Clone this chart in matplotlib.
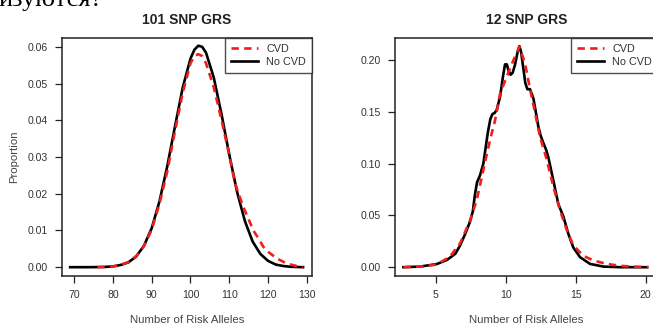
import matplotlib
matplotlib.use("Agg")
import matplotlib.pyplot as plt

plt.rcParams['font.family'] = ['Liberation Sans', 'DejaVu Sans']

# ---- Data: 101 SNP GRS ----
grs101_cvd_x = [76, 78, 80, 82, 84, 86, 88, 90, 92, 94, 96, 98, 100, 101, 102, 103, 104, 106,
                108, 110, 111.5, 113.6, 114.9, 116.2, 117.5, 118.8, 120, 122.2, 124.8, 127.4, 129]
grs101_cvd_y = [0.0, 0.00005, 0.0002, 0.0006, 0.0014, 0.003, 0.0057, 0.0102, 0.0172, 0.026,
                0.037, 0.0475, 0.0555, 0.0575, 0.058, 0.0575, 0.0555, 0.049, 0.040, 0.0305,
                0.0227, 0.0164, 0.0132, 0.0100, 0.0078, 0.0055, 0.0042, 0.0024, 0.0010, 0.0003, 0.0]
grs101_nocvd_x = [69, 72, 75, 78, 80, 82, 84, 86, 88, 90, 92, 94, 96, 98, 100, 101, 102, 103, 104,
                  106, 108, 110, 112, 114, 116, 118, 120, 122, 124, 126, 129]
grs101_nocvd_y = [0.0, 0.0, 0.00001, 0.00008, 0.0002, 0.0006, 0.0013, 0.0029, 0.0058, 0.0106,
                  0.0179, 0.0274, 0.0383, 0.0489, 0.0568, 0.0592, 0.0603, 0.0600, 0.0584, 0.0516,
                  0.0416, 0.0306, 0.0205, 0.0126, 0.0070, 0.0036, 0.0017, 0.0007, 0.0003, 0.0001, 0.0]

# ---- Data: 12 SNP GRS ----
grs12_cvd_x = [2.69, 4.0, 5.07, 6.0, 6.74, 7.45, 7.93, 8.4, 8.88, 9.24, 9.6, 10.07, 10.55, 10.98,
               11.38, 11.74, 12.1, 12.45, 12.93, 13.4, 13.88, 14.36, 14.83, 15.55, 16.26, 17.21,
               18.2, 19.1, 20.2]
grs12_cvd_y = [0.0, 0.0008, 0.0026, 0.010, 0.023, 0.045, 0.065, 0.094, 0.123, 0.142, 0.168, 0.184,
               0.200, 0.213, 0.197, 0.172, 0.149, 0.126, 0.104, 0.078, 0.055, 0.036, 0.021, 0.011,
               0.0065, 0.0032, 0.0013, 0.0006, 0.0]
grs12_nocvd_x = [2.69, 3.88, 5.07, 5.8, 6.4, 6.74, 7.1, 7.45, 7.65, 7.8, 7.95, 8.17, 8.4, 8.55,
                 8.72, 8.9, 9.05, 9.2, 9.36, 9.6, 9.8, 9.95, 10.08, 10.2, 10.35, 10.5, 10.67,
                 10.85, 10.98, 11.1, 11.26, 11.4, 11.55, 11.74, 11.98, 12.15, 12.33, 12.5, 12.69,
                 12.9, 13.05, 13.4, 13.76, 14.12, 14.48, 14.83, 15.31, 16.02, 16.98, 18.2, 20.1]
grs12_nocvd_y = [0.0, 0.0006, 0.003, 0.007, 0.013, 0.021, 0.032, 0.044, 0.054, 0.070, 0.082, 0.089,
                 0.100, 0.114, 0.130, 0.143, 0.148, 0.149, 0.152, 0.165, 0.184, 0.196, 0.196, 0.190,
                 0.186, 0.188, 0.196, 0.208, 0.2136, 0.208, 0.192, 0.178, 0.172, 0.172, 0.163,
                 0.150, 0.136, 0.127, 0.120, 0.113, 0.106, 0.084, 0.061, 0.049, 0.032, 0.019,
                 0.0097, 0.0032, 0.0006, 0.0, 0.0]

titles = ["101 SNP GRS", "12 SNP GRS"]
xlabel = "Number of Risk Alleles"
ylabel = "Proportion"
legend_labels = ["CVD", "No CVD"]
left_xticks = [70, 80, 90, 100, 110, 120, 130]
left_yticks = [0.00, 0.01, 0.02, 0.03, 0.04, 0.05, 0.06]
right_xticks = [5, 10, 15, 20]
right_yticks = [0.00, 0.05, 0.10, 0.15, 0.20]

W, H = 653, 329
fig = plt.figure(figsize=(W / 100, H / 100), dpi=100)

def px_axes(x0, y0, x1, y1):
    return fig.add_axes([x0 / W, 1 - y1 / H, (x1 - x0) / W, (y1 - y0) / H])

ax1 = px_axes(62, 38, 312, 276)
ax2 = px_axes(395, 38, 658, 276)

tick_col = '#333333'
lab_col = '#444444'
red = '#f01e1e'

def style(ax, title, xt, yt, fmt):
    for s in ax.spines.values():
        s.set_color('#222222')
        s.set_linewidth(1.1)
    ax.set_xticks(xt)
    ax.set_yticks(yt)
    ax.set_yticklabels([fmt.format(v) for v in yt])
    ax.tick_params(direction='out', length=5, width=0.9, colors='#222222',
                   labelsize=7.6, labelcolor=tick_col, pad=5)
    ax.set_title(title, fontsize=10, fontweight='bold', color='#222222', pad=10)
    ax.set_xlabel(xlabel, fontsize=8.2, color=lab_col, labelpad=11)

def draw(ax, cx, cy, nx, ny):
    l1, = ax.plot(cx, cy, color=red, lw=1.9, linestyle=(0, (2.8, 2.0)), label=legend_labels[0], zorder=3)
    l2, = ax.plot(nx, ny, color='black', lw=1.9, label=legend_labels[1], zorder=2)
    leg = ax.legend(handles=[l1, l2], loc='upper right', borderaxespad=0, fancybox=False,
                    frameon=True, fontsize=7.8, handlelength=2.5, handletextpad=0.8,
                    borderpad=0.55, labelspacing=0.3)
    leg.get_frame().set_edgecolor('#222222')
    leg.get_frame().set_linewidth(1.0)
    for t in leg.get_texts():
        t.set_color(tick_col)

draw(ax1, grs101_cvd_x, grs101_cvd_y, grs101_nocvd_x, grs101_nocvd_y)
draw(ax2, grs12_cvd_x, grs12_cvd_y, grs12_nocvd_x, grs12_nocvd_y)

ax1.set_xlim(66.9, 131.3)
ax1.set_ylim(-0.0024, 0.0624)
ax2.set_xlim(2.09, 20.88)
ax2.set_ylim(-0.0085, 0.2215)

style(ax1, titles[0], left_xticks, left_yticks, "{:.2f}")
style(ax2, titles[1], right_xticks, right_yticks, "{:.2f}")
ax1.set_ylabel(ylabel, fontsize=8.2, color=lab_col, labelpad=6)

fig.text(-2 / W, 1 - 6 / H, "изуются?", fontsize=19, family=['Liberation Serif', 'DejaVu Serif'],
         color='black', ha='left', va='baseline')

fig.savefig("out.png", dpi=100)
